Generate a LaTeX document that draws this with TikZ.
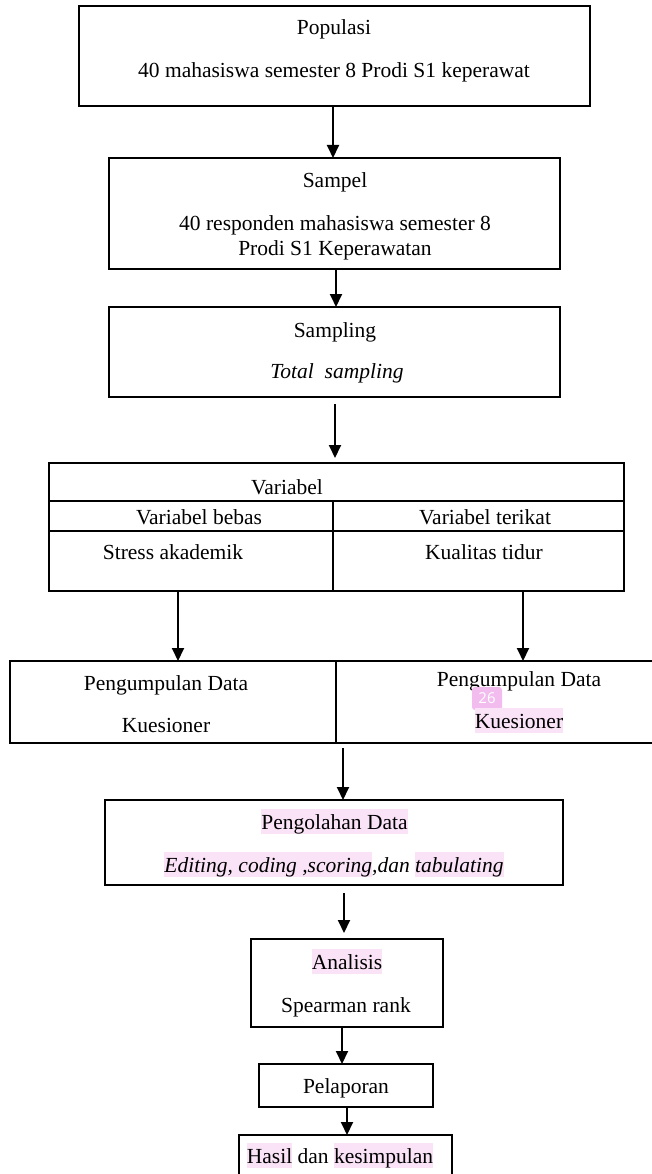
\documentclass[tikz,border=0pt]{standalone}
\usepackage{fontspec}
\setmainfont{Liberation Serif}
\newfontfamily\badgefont{Open Sans}
\usetikzlibrary{arrows.meta}
\definecolor{hlpink}{HTML}{FAE2F7}
\definecolor{badgepink}{HTML}{F2BDEE}
\newcommand\hlt[1]{{\fboxsep=0pt\colorbox{hlpink}{\rule[-5pt]{0pt}{25pt}#1}}}
\begin{document}
\begin{tikzpicture}[x=1pt,y=-1pt,
  box/.style={draw, line width=1.5pt, inner sep=0pt, outer sep=0pt},
  txt/.style={anchor=base, inner sep=0pt, font=\fontsize{21.5}{26}\selectfont},
  arr/.style={line width=1.9pt, -{Triangle[length=13pt,width=12pt]}},
]
\useasboundingbox (0,0) rectangle (652,1174);
\clip (0,0) rectangle (652,1174);
\fill[white] (0,0) rectangle (652,1174);

% boxes
\node[box, minimum width=511pt, minimum height=100pt] (pop) at (334.5,56) {};
\node[box, minimum width=451pt, minimum height=111pt] (sam) at (334.5,213.5) {};
\node[box, minimum width=451pt, minimum height=90pt] (smp) at (334.5,352) {};
\node[box, minimum width=575pt, minimum height=38pt] (vh) at (336.5,482) {};
\node[box, minimum width=284pt, minimum height=30pt] (vb) at (191,516) {};
\node[box, minimum width=291pt, minimum height=30pt] (vt) at (478.5,516) {};
\node[box, minimum width=284pt, minimum height=60pt] (sa) at (191,561) {};
\node[box, minimum width=291pt, minimum height=60pt] (kt) at (478.5,561) {};
\draw[line width=2.8pt] (vb.north east) -- (sa.south east);
\node[box, minimum width=326pt, minimum height=82pt] (pgl) at (173,702) {};
\node[box, minimum width=330pt, minimum height=82pt, anchor=west] (pgr) at (336,702) {};
\node[box, minimum width=458pt, minimum height=85pt] (pol) at (334,842.5) {};
\node[box, minimum width=192pt, minimum height=88pt] (ana) at (347,983) {};
\node[box, minimum width=174pt, minimum height=43pt] (pel) at (346,1085.5) {};
\node[box, minimum width=213pt, minimum height=60pt] (has) at (345.5,1165) {};

% arrows
\draw[arr] (333,0 |- pop.south) -- (333,0 |- sam.north);
\draw[arr] (336,0 |- sam.south) -- (336,0 |- smp.north);
\draw[arr, shorten <=7pt, shorten >=5pt] (335,0 |- smp.south) -- (335,0 |- vh.north);
\draw[arr] (178,0 |- sa.south) -- (178,0 |- pgl.north);
\draw[arr] (523,0 |- kt.south) -- (523,0 |- pgr.north);
\draw[arr, shorten <=5pt] (343,0 |- pgl.south) -- (343,0 |- pol.north);
\draw[arr, shorten <=8pt, shorten >=6pt] (344,0 |- pol.south) -- (344,0 |- ana.north);
\draw[arr] (342,0 |- ana.south) -- (342,0 |- pel.north);
\draw[arr] (347,0 |- pel.south) -- (347,0 |- has.north);

% texts
\node[txt] (t1) at (334,35) {Populasi};
\node[txt] (t2) at (334,78) {40 mahasiswa semester 8 Prodi S1 keperawat};
\node[txt] (t3) at (335,188) {Sampel};
\node[txt] (t4) at (335,230) {40 responden mahasiswa semester 8};
\node[txt] (t5) at (335,255) {Prodi S1 Keperawatan};
\node[txt] (t6) at (335,337) {Sampling};
\node[txt] (t7) at (337,378) {\itshape Total\ \ sampling};
\node[txt] (t8) at (287,494) {Variabel};
\node[txt] (t9) at (199,524) {Variabel bebas};
\node[txt] (t10) at (485,524) {Variabel terikat};
\node[txt] (t11) at (173,559) {Stress akademik};
\node[txt] (t12) at (484,559) {Kualitas tidur};
\node[txt] (t13) at (166,690) {Pengumpulan Data};
\node[txt] (t14) at (166,732) {Kuesioner};
\node[txt] (t15) at (519,686) {Pengumpulan Data};
\node[fill=badgepink, rounded corners=3pt, minimum width=30pt, minimum height=23pt, inner sep=0pt, text=white, font=\badgefont\fontsize{15}{15}\selectfont] (badge) at (487,698.5) {26};
\node[txt] (t16) at (519,728) {\hlt{Kuesioner}};
\node[txt] (t17) at (334.5,829) {\hlt{Pengolahan Data}};
\node[txt] (t18) at (334,872) {\itshape \hlt{Editing, coding ,scoring},dan \hlt{tabulating}};
\node[txt] (t19) at (347,969) {\hlt{Analisis}};
\node[txt] (t20) at (346,1012) {Spearman rank};
\node[txt] (t21) at (346,1093) {Pelaporan};
\node[txt] (t22) at (340,1163) {\hlt{Hasil} dan \hlt{kesimpulan}};
\end{tikzpicture}
\end{document}
